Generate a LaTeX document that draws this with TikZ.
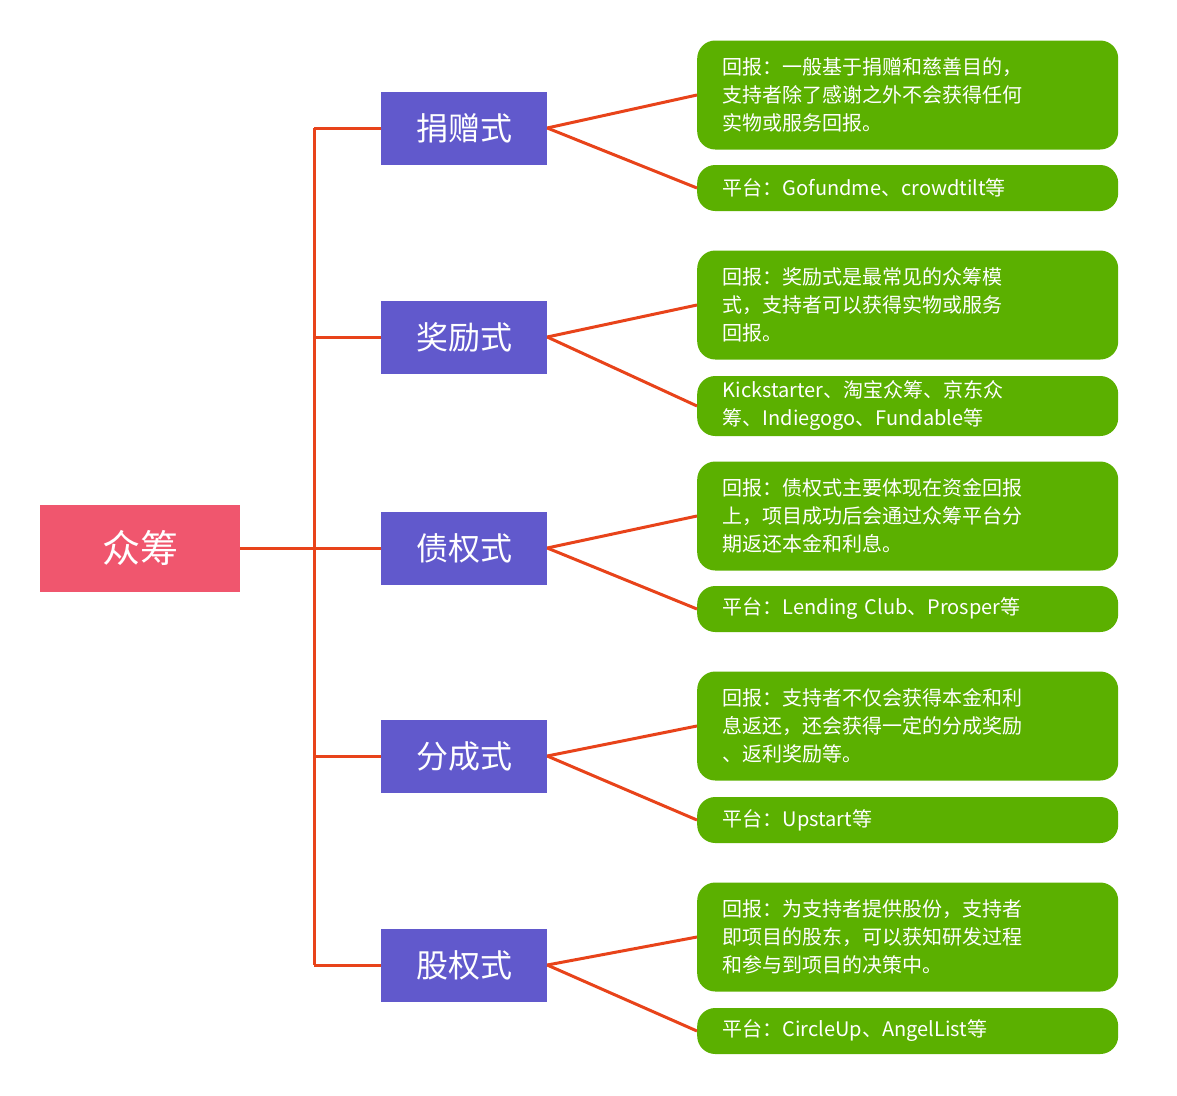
\documentclass[tikz,border=0pt]{standalone}
\usepackage{fontspec}
\setmainfont{Noto Sans CJK SC}
\usetikzlibrary{positioning}
\definecolor{rootpink}{HTML}{F0566E}
\definecolor{midblue}{HTML}{6159CC}
\definecolor{leafgreen}{HTML}{5BB000}
\definecolor{linered}{HTML}{E8431A}
\tikzset{
  root/.style={fill=rootpink,text=white,minimum width=200pt,minimum height=87pt,font=\fontsize{38}{40}\selectfont},
  mid/.style={fill=midblue,text=white,minimum width=166pt,minimum height=73pt,font=\fontsize{32}{36}\selectfont},
  leaf/.style={fill=leafgreen,text=white,rounded corners=18pt,minimum width=421pt,text width=370pt,align=left,inner xsep=25pt,font=\fontsize{20}{28}\selectfont,anchor=west},
  link/.style={draw=linered,line width=3pt}
}
\begin{document}
\begin{tikzpicture}[x=1pt,y=-1pt]
  \useasboundingbox (0,0) rectangle (1177,1095);
  \node[root] (root) at (140,548) {众筹};
  %middle level
  \node[mid] (m1) at (464,128) {捐赠式};
  \node[mid] (m2) at (464,337) {奖励式};
  \node[mid] (m3) at (464,548) {债权式};
  \node[mid] (m4) at (464,756) {分成式};
  \node[mid] (m5) at (464,965) {股权式};
  %leaves
  \node[leaf,minimum height=109pt] (r1) at (697,95) {回报：一般基于捐赠和慈善目的，\\支持者除了感谢之外不会获得任何\\实物或服务回报。};
  \node[leaf,minimum height=46pt] (p1) at (697,188) {平台：Gofundme、crowdtilt等};
  \node[leaf,minimum height=109pt] (r2) at (697,305) {回报：奖励式是最常见的众筹模\\式，支持者可以获得实物或服务\\回报。};
  \node[leaf,minimum height=60pt] (p2) at (697,406) {Kickstarter、淘宝众筹、京东众\\筹、Indiegogo、Fundable等};
  \node[leaf,minimum height=109pt] (r3) at (697,516) {回报：债权式主要体现在资金回报\\上，项目成功后会通过众筹平台分\\期返还本金和利息。};
  \node[leaf,minimum height=46pt] (p3) at (697,609) {平台：Lending Club、Prosper等};
  \node[leaf,minimum height=109pt] (r4) at (697,726) {回报：支持者不仅会获得本金和利\\息返还，还会获得一定的分成奖励\\、返利奖励等。};
  \node[leaf,minimum height=46pt] (p4) at (697,820) {平台：Upstart等};
  \node[leaf,minimum height=109pt] (r5) at (697,937) {回报：为支持者提供股份，支持者\\即项目的股东，可以获知研发过程\\和参与到项目的决策中。};
  \node[leaf,minimum height=46pt] (p5) at (697,1031) {平台：CircleUp、AngelList等};
  %trunk
  \coordinate (t1) at (314,128);
  \coordinate (t5) at (314,965);
  \draw[link] (t1) -- (t5);
  \draw[link] (root.east) -- (m3.west);
  \foreach \m in {1,2,4,5} {
    \draw[link] (m\m.west) -- (m\m.west -| t1);
  }
  \foreach \m in {1,...,5} {
    \draw[link] (m\m.east) -- (r\m.west);
    \draw[link] (m\m.east) -- (p\m.west);
  }
\end{tikzpicture}
\end{document}
